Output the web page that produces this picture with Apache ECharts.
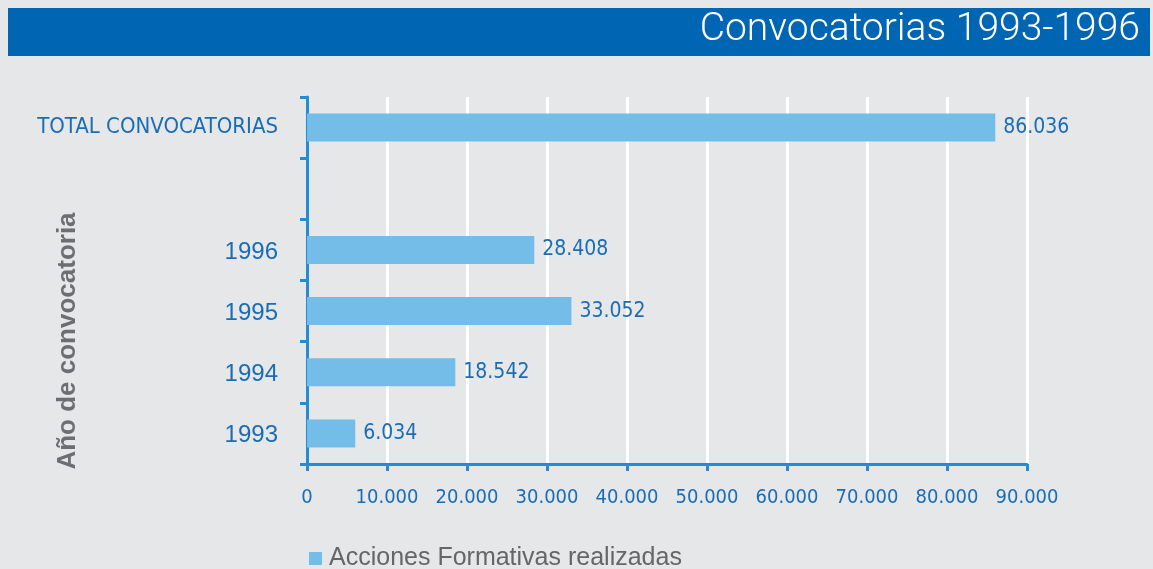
<!DOCTYPE html>
<html><head><meta charset="utf-8">
<script src="https://cdn.jsdelivr.net/npm/echarts@6/dist/echarts.min.js"></script>
<style>html,body{margin:0;padding:0;background:#e6e7e9}#c{width:1153px;height:569px}</style>
</head><body><div id="c"></div>
<script>
const categories = ['1993', '1994', '1995', '1996', '', 'TOTAL CONVOCATORIAS'];
const values = [6034, 18542, 33052, 28408, null, 86036];
const seriesName = 'Acciones Formativas realizadas';
const titleText = 'Convocatorias 1993-1996';
const yAxisTitle = 'Año de convocatoria';

const NARROW = '"DejaVu Sans Condensed", "Liberation Sans Narrow", sans-serif';
const ARIAL = '"Liberation Sans", Arial, sans-serif';
const AXIS = '#1f8ed6';
const LBL = '#1a6db5';
function fmt(v){ return String(v).replace(/\B(?=(\d{3})+(?!\d))/g, '.'); }

const chart = echarts.init(document.getElementById('c'));
chart.setOption({
  backgroundColor: '#e6e7e9',
  animation: false,
  grid: { left: 307, right: 126, top: 97, bottom: 105, containLabel: false },
  graphic: [
    { type: 'rect', shape: { x: 8, y: 8, width: 1142, height: 48 }, style: { fill: '#0066b3' }, z: 0 },
    { type: 'text', x: 1140, y: 30, z: 1,
      style: { text: titleText, fill: '#ffffff', font: '300 39px Roboto, sans-serif', textAlign: 'right', textVerticalAlign: 'middle' } },
    { type: 'text', x: 68, y: 341, rotation: Math.PI / 2,
      style: { text: yAxisTitle, fill: '#6d6e71', font: 'bold 26px ' + ARIAL, textAlign: 'center', textVerticalAlign: 'middle' } }
  ],
  legend: {
    left: 304, top: 541, itemWidth: 13, itemHeight: 13, icon: 'rect', itemGap: 10,
    textStyle: { color: '#666666', fontSize: 25, fontFamily: ARIAL, padding: [0, 0, 0, 2] },
    data: [seriesName]
  },
  xAxis: {
    type: 'value', min: 0, max: 90000, interval: 10000,
    axisLine: { show: true, lineStyle: { color: AXIS, width: 3 } },
    axisTick: { show: true, length: 7, lineStyle: { color: AXIS, width: 3 } },
    axisLabel: { color: LBL, fontSize: 20, fontFamily: NARROW, margin: 24, formatter: v => fmt(v) },
    splitLine: { show: true, lineStyle: { color: '#ffffff', width: 3 } }
  },
  yAxis: {
    type: 'category', data: categories,
    axisLine: { show: true, lineStyle: { color: AXIS, width: 3 } },
    axisTick: { show: true, length: 7, lineStyle: { color: AXIS, width: 3 } },
    axisLabel: {
      margin: 29,
      formatter: v => v === 'TOTAL CONVOCATORIAS' ? '{t|' + v + '}' : '{y|' + v + '}',
      rich: {
        t: { color: LBL, fontSize: 22, fontFamily: NARROW },
        y: { color: LBL, fontSize: 24, fontFamily: ARIAL, padding: [4, 0, 0, 0] }
      }
    },
    splitLine: { show: false }
  },
  series: [{
    name: seriesName, type: 'bar', data: values, barWidth: 28,
    itemStyle: { color: '#74bde8' },
    label: { show: true, position: 'right', distance: 8, color: LBL, fontSize: 21, fontFamily: NARROW, formatter: p => fmt(p.value) }
  }]
});
</script></body></html>
